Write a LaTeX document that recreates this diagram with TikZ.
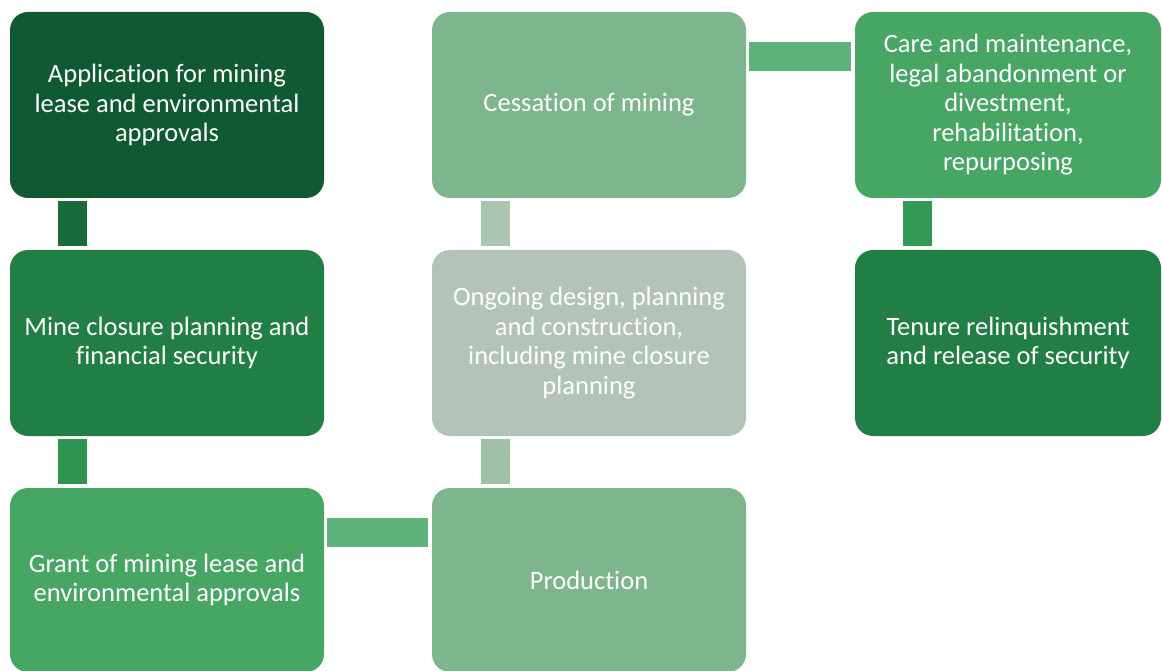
\documentclass[tikz,border=0pt]{standalone}
\usepackage{fontspec}
\setmainfont{Carlito}[Ligatures=NoCommon]
\usetikzlibrary{calc}

\definecolor{gDark}{HTML}{0F5A30}
\definecolor{gMid}{HTML}{217E44}
\definecolor{gBright}{HTML}{47A664}
\definecolor{gSoft}{HTML}{7DB68C}
\definecolor{gGrey}{HTML}{B1C4B7}
\definecolor{lDark}{HTML}{1A6B3B}
\definecolor{lMid}{HTML}{2E9550}
\definecolor{lBright}{HTML}{5DB37A}
\definecolor{lGrey}{HTML}{A0C0A8}
\definecolor{lCare}{HTML}{329A55}

\begin{document}
\begin{tikzpicture}[
  x=1pt,
  y=-1pt,
  stage/.style={rectangle, rounded corners=18pt, draw=none, align=center,
    text=white, font=\fontsize{26.5}{29.5}\selectfont,
    minimum width=314pt, minimum height=186pt, inner sep=0pt},
  link/.style={line width=29pt, line cap=butt}
]
\useasboundingbox (0,0) rectangle (1162,671);
\node[stage, fill=gDark] (app) at (167,105) {Application for mining\\lease and environmental\\approvals};
\node[stage, fill=gMid] (closure) at (167,343) {Mine closure planning and\\financial security};
\node[stage, fill=gBright, minimum height=184pt] (grant) at (167,580) {Grant of mining lease and\\environmental approvals};
\node[stage, fill=gSoft, minimum height=184pt] (prod) at (589,580) {Production};
\node[stage, fill=gGrey] (design) at (589,343) {Ongoing design, planning\\and construction,\\including mine closure\\planning};
\node[stage, fill=gSoft] (cease) at (589,105) {Cessation of mining};
\node[stage, fill=gBright, minimum width=306pt] (care) at (1008,105) {Care and maintenance,\\legal abandonment or\\divestment,\\rehabilitation,\\repurposing};
\node[stage, fill=gMid, minimum width=306pt] (tenure) at (1008,343) {Tenure relinquishment\\and release of security};
% connectors
\draw[link, lDark] ([xshift=62.5pt,yshift=-3pt]app.south west) -- ([xshift=62.5pt,yshift=4pt]closure.north west);
\draw[link, lMid] ([xshift=62.5pt,yshift=-3pt]closure.south west) -- ([xshift=62.5pt,yshift=4pt]grant.north west);
\draw[link, lBright] ([xshift=3pt,yshift=-44.5pt]grant.north east) -- ([xshift=-4pt,yshift=-44.5pt]prod.north west);
\draw[link, lGrey] ([xshift=63.5pt,yshift=4pt]prod.north west) -- ([xshift=63.5pt,yshift=-3pt]design.south west);
\draw[link, lGrey!90!white] ([xshift=63.5pt,yshift=4pt]design.north west) -- ([xshift=63.5pt,yshift=-3pt]cease.south west);
\draw[link, lBright] ([xshift=3pt,yshift=-44.5pt]cease.north east) -- ([xshift=-4pt,yshift=-44.5pt]care.north west);
\draw[link, lCare] ([xshift=62.5pt,yshift=-3pt]care.south west) -- ([xshift=62.5pt,yshift=4pt]tenure.north west);
\end{tikzpicture}
\end{document}
